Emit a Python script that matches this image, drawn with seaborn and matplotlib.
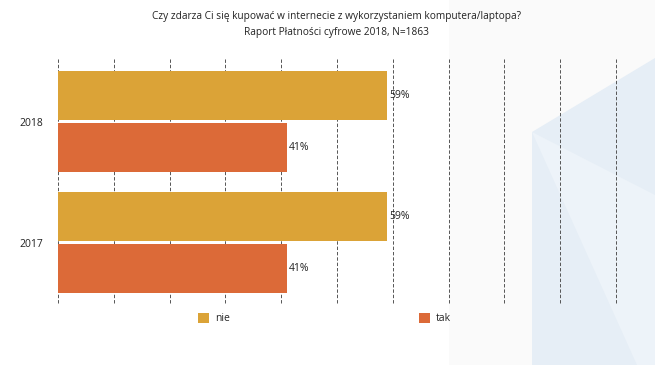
import pandas as pd
import matplotlib.pyplot as plt
import seaborn as sns
from matplotlib.patches import Polygon

# Values
years = ["2018", "2017"]
answers = ["nie", "tak"]
nie_pct = [59, 59]
tak_pct = [41, 41]
colors = ["#DBA337", "#DC6A38"]

df = pd.DataFrame({
    "Rok": years * 2,
    "Odpowiedź": ["nie"] * len(years) + ["tak"] * len(years),
    "Procent": nie_pct + tak_pct,
})

sns.set_style("white")
plt.rcParams["font.family"] = ["Open Sans", "DejaVu Sans"]

fig = plt.figure(figsize=(6.55, 3.65), dpi=100)

# light background decoration on the right
def bg_poly(pts, color, z):
    fig.patches.append(Polygon([[x / 655, 1 - y / 365] for x, y in pts], closed=True,
                               transform=fig.transFigure, facecolor=color,
                               edgecolor="none", zorder=z))

bg_poly([(449, 0), (655, 0), (655, 365), (449, 365)], "#FAFAFA", -3)
bg_poly([(532, 132), (655, 58), (655, 365), (532, 365)], "#E6EEF6", -2)
bg_poly([(532, 132), (655, 195), (655, 365), (637, 365)], "#EDF3F9", -1)

ax = fig.add_axes([58 / 655, 1 - 303 / 365, 558 / 655, 245 / 365])
ax.patch.set_alpha(0)

sns.barplot(data=df, y="Rok", x="Procent", hue="Odpowiedź", order=years,
            hue_order=answers, palette=colors, orient="h", width=0.866, gap=0.07,
            saturation=1, linewidth=0, ax=ax)

for cont in ax.containers:
    ax.bar_label(cont, labels=[f"{v:.0f}%" for v in cont.datavalues],
                 padding=1.5, fontsize=7.5, color="#222222")

ax.set_xlim(0, 100)
ax.set_ylim(1.5, -0.525)
ax.set_xticks(range(0, 101, 10))
ax.set_xticklabels([])
ax.tick_params(axis="both", length=0)
ax.tick_params(axis="y", labelsize=7.5, labelcolor="#222222", pad=10.5)
ax.grid(axis="x", linestyle=(0, (3.5, 2)), color="#555555", linewidth=0.7)
for gl in ax.xaxis.get_gridlines():
    gl.set_clip_on(False)
ax.set_axisbelow(True)
ax.set_xlabel("")
ax.set_ylabel("")
sns.despine(ax=ax, left=True, bottom=True)

fig.text(337 / 655, 1 - 17 / 365,
         "Czy zdarza Ci się kupować w internecie z wykorzystaniem komputera/laptopa?",
         ha="center", va="center", fontsize=7.3, color="#222222")
fig.text(337 / 655, 1 - 33 / 365, "Raport Płatności cyfrowe 2018, N=1863",
         ha="center", va="center", fontsize=7.3, color="#222222")

ax.legend(loc="center left", bbox_to_anchor=(198 / 655, 1 - 318.5 / 365),
          bbox_transform=fig.transFigure, ncol=2, frameon=False, fontsize=7.5,
          handlelength=1.1, handleheight=1.1, columnspacing=18.1,
          handletextpad=0.55, borderpad=0, borderaxespad=0)

fig.savefig("out.png", dpi=100)
